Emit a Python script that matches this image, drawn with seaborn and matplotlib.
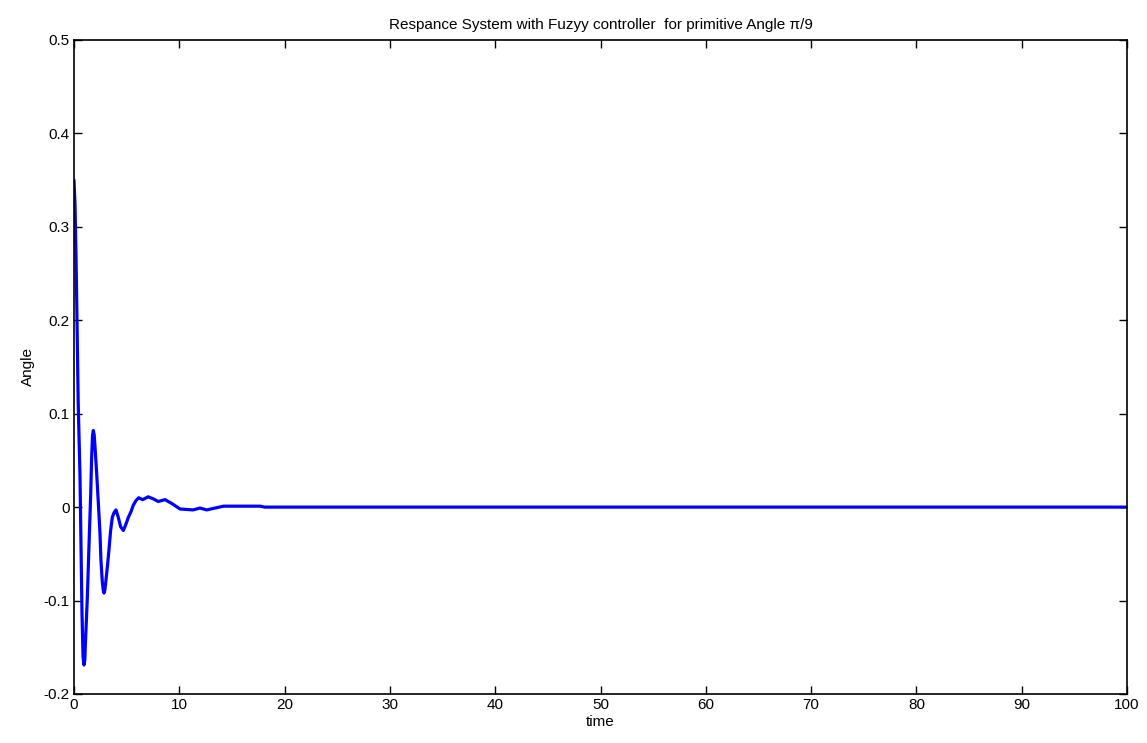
import matplotlib
matplotlib.use("Agg")
import matplotlib.pyplot as plt
import seaborn as sns
import pandas as pd

# Angle response of the pendulum under the fuzzy controller
time = [0.0, 0.1, 0.2, 0.3, 0.4, 0.57, 0.67, 0.76, 0.86, 0.95, 1.03, 1.1, 1.27,
        1.42, 1.58, 1.68, 1.76, 1.84, 1.92, 2.0, 2.15, 2.3, 2.47, 2.56, 2.69,
        2.78, 2.85, 2.93, 3.01, 3.17, 3.32, 3.48, 3.64, 3.8, 3.99, 4.21, 4.43,
        4.69, 4.91, 5.16, 5.41, 5.63, 5.89, 6.14, 6.52, 7.05, 7.5, 8.0, 8.64,
        9.27, 10.07, 11.3, 11.97, 12.6, 13.4, 14.2, 17.7, 18.1, 30.0, 60.0, 100.0]
angle = [0.35, 0.323, 0.264, 0.19, 0.112, 0.034, -0.044, -0.113, -0.160, -0.169,
         -0.163, -0.142, -0.096, -0.043, 0.011, 0.054, 0.077, 0.082, 0.077, 0.064,
         0.037, 0.007, -0.028, -0.057, -0.080, -0.089, -0.092, -0.089, -0.081,
         -0.064, -0.046, -0.025, -0.011, -0.006, -0.003, -0.011, -0.021, -0.025,
         -0.019, -0.011, -0.005, 0.002, 0.007, 0.010, 0.008, 0.011, 0.009, 0.006,
         0.008, 0.004, -0.002, -0.003, -0.001, -0.003, -0.001, 0.001, 0.001, 0.0,
         0.0, 0.0, 0.0]

x_ticks = [0, 10, 20, 30, 40, 50, 60, 70, 80, 90, 100]
y_ticks = [-0.2, -0.1, 0, 0.1, 0.2, 0.3, 0.4, 0.5]
y_tick_labels = ["-0.2", "-0.1", "0", "0.1", "0.2", "0.3", "0.4", "0.5"]

sns.set_theme(style="white")
plt.rcParams["font.family"] = ["Liberation Sans", "DejaVu Sans"]
plt.rcParams["text.color"] = "black"
plt.rcParams["axes.labelcolor"] = "black"

df = pd.DataFrame({"time": time, "Angle": angle})

fig = plt.figure(figsize=(11.47, 7.43), dpi=100)
ax = fig.add_axes([0.0645, 0.066, 0.9181, 0.8802])
sns.lineplot(data=df, x="time", y="Angle", ax=ax, color="#0000ff",
             linewidth=2.3)

ax.set_xlim(0, 100)
ax.set_ylim(-0.2, 0.5)
ax.set_xticks(x_ticks)
ax.set_xticklabels([str(v) for v in x_ticks])
ax.set_yticks(y_ticks)
ax.set_yticklabels(y_tick_labels)

ax.tick_params(direction="in", length=6, width=1, colors="black",
               labelsize=11, top=True, right=True, bottom=True, left=True,
               pad=3)
for s in ax.spines.values():
    s.set_color("black")
    s.set_linewidth(1.2)

ax.set_xlabel("time", fontsize=11, labelpad=2, color="black")
ax.set_ylabel("Angle", fontsize=11, labelpad=6, color="black")
ax.set_title("Respance System with Fuzyy controller  for primitive Angle \u03c0/9",
             fontsize=11, pad=8, color="black")

fig.savefig("out.png", dpi=100, facecolor="white")
